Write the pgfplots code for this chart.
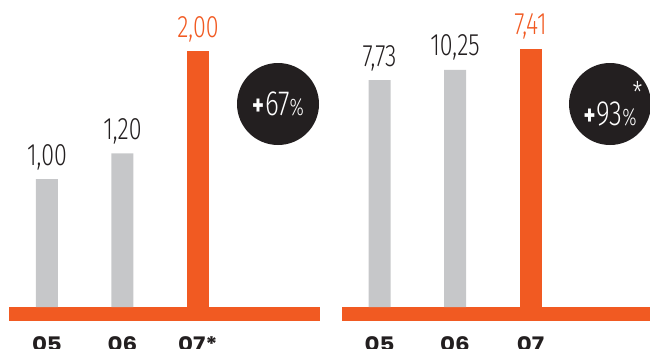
\documentclass[border=0pt]{standalone}
\usepackage{pgfplots}
\pgfplotsset{compat=1.18}
\usepackage{fontspec}
\IfFontExistsTF{Fira Sans Light}
  {\setmainfont{Fira Sans Light}[FakeStretch=0.75, BoldFont=Fira Sans Bold]}
  {\setmainfont{Fira Sans}[FakeStretch=0.75]}
\newfontfamily\tickfont{Poppins}[FakeStretch=1.15]
\definecolor{borange}{HTML}{F15A22}
\definecolor{bgray}{HTML}{C6C7C9}
\definecolor{bdark}{HTML}{231F20}
\pgfplotsset{
  panel/.style={
    scale only axis, x=75.5bp, y=128bp,
    ymin=-0.328, ymax=2.398,
    axis line style={draw=none}, tick style={draw=none},
    ytick=\empty, xtick={0,1,2},
    xticklabel style={anchor=base, yshift=2bp, text=bdark,
      font=\tickfont\bfseries\fontsize{20bp}{20bp}\selectfont},
    clip=false,
    ybar, bar width=22bp, bar shift=0pt,
    nodes near coords, point meta=explicit symbolic,
    every node near coord/.append style={anchor=base, yshift=14bp,
      font=\fontsize{31bp}{31bp}\selectfont},
  }
}
\begin{document}
\begin{tikzpicture}
% left panel
\begin{axis}[panel, at={(9bp,0)}, anchor=south west,
  xmin=-0.503, xmax=3.616, xticklabels={05,06,07*}]
  \fill[borange] (axis cs:-0.503,-0.109) rectangle (axis cs:3.616,0);
  \addplot[fill=bgray, draw=none, every node near coord/.append style={text=bdark}]
    table[meta=lab] {
x y lab
0 1.00 1,00
1 1.20 1,20
};
  \addplot[fill=borange, draw=none, every node near coord/.append style={text=borange}]
    table[meta=lab] {
x y lab
2 2.00 2,00
};
  \node[circle, fill=bdark, minimum size=82bp, inner sep=0pt, text=white]
    at (axis cs:3.06,1.586)
    {{\bfseries\fontsize{30bp}{30bp}\selectfont +}\kern1bp{\fontsize{35bp}{35bp}\selectfont 67}{\fontsize{24bp}{24bp}\selectfont\%}};
\end{axis}
% right panel (bar heights as drawn; labels are the printed values)
\begin{axis}[panel, at={(342bp,0)}, anchor=south west,
  xmin=-0.497, xmax=3.583, xticklabels={05,06,07}]
  \fill[borange] (axis cs:-0.497,-0.109) rectangle (axis cs:3.583,0);
  \addplot[fill=bgray, draw=none, every node near coord/.append style={text=bdark}]
    table[meta=lab] {
x y lab
0 1.773 7,73
1 1.852 10,25
};
  \addplot[fill=borange, draw=none, every node near coord/.append style={text=borange}]
    table[meta=lab] {
x y lab
2 2.016 7,41
};
  \node[circle, fill=bdark, minimum size=82bp, inner sep=0pt, text=white]
    at (axis cs:3.053,1.586)
    {{\bfseries\fontsize{30bp}{30bp}\selectfont +}\kern1bp{\fontsize{35bp}{35bp}\selectfont 93}{\fontsize{24bp}{24bp}\selectfont\%\rlap{\kern-4bp\raisebox{22bp}{\fontsize{30bp}{30bp}\selectfont *}}}};
\end{axis}
\pgfresetboundingbox
\path[use as bounding box] (0,0) rectangle (650bp,349bp);
\end{tikzpicture}
\end{document}
